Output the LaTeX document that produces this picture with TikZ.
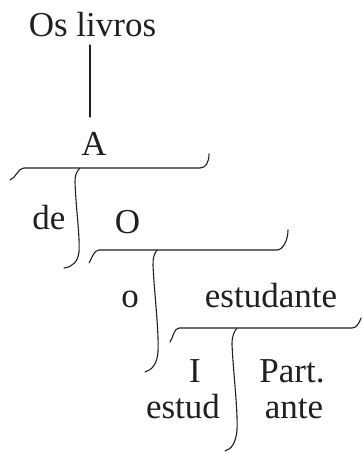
\documentclass[tikz,border=0pt]{standalone}
\usepackage{fontspec}
\setmainfont{Liberation Serif}
\definecolor{ink}{RGB}{35,31,32}
\begin{document}
\begin{tikzpicture}[x=1pt,y=-1pt,
  lbl/.style={anchor=base, inner sep=0pt, text=ink, font=\fontsize{35}{40}\selectfont},
  ln/.style={draw=ink, line width=1.1pt, line cap=round, line join=round}]
\useasboundingbox (0,0) rectangle (362,452);
% texts
\node[lbl] (livros) at (92.5,37) {Os livros};
\node[lbl] (A) at (94,155) {A};
\node[lbl] (de) at (49,229) {de};
\node[lbl] (O) at (127.5,233) {O};
\node[lbl] (o) at (130,307) {o};
\node[lbl] (estudante) at (271,307) {estudante};
\node[lbl] (I) at (195,382) {I};
\node[lbl] (estud) at (183,418) {estud};
\node[lbl] (Part) at (292,382) {Part.};
\node[lbl] (ante) at (294,418) {ante};
% lines
\coordinate (s1) at (90,45);
\coordinate (s2) at (90,117);
\draw[ln] (s1) -- (s2);
\draw[ln] (10,180) .. controls (16,178) and (18,168) .. (24,168) -- (200,168)
  .. controls (206,168) and (209,162) .. (209,154);
\draw[ln] (80,168) .. controls (76,172) and (75,176) .. (75,182)
  .. controls (76,210) and (80,235) .. (79,252)
  .. controls (78,262) and (72,267) .. (64,268);
\draw[ln] (89,263) .. controls (92,258) and (94,250) .. (99,250) -- (277,250)
  .. controls (283,250) and (288,240) .. (288,230);
\draw[ln] (157,250) .. controls (154,254) and (153,258) .. (153,265)
  .. controls (154,290) and (159,330) .. (158,352)
  .. controls (157,364) and (152,370) .. (145,372);
\draw[ln] (170,342) .. controls (173,338) and (174,328) .. (179,328) -- (352,328)
  .. controls (356,328) and (359,324) .. (361,318);
\draw[ln] (237,328) .. controls (234,332) and (232,336) .. (232,344)
  .. controls (233,370) and (238,410) .. (237,430)
  .. controls (236,442) and (232,449) .. (225,451);
\end{tikzpicture}
\end{document}
